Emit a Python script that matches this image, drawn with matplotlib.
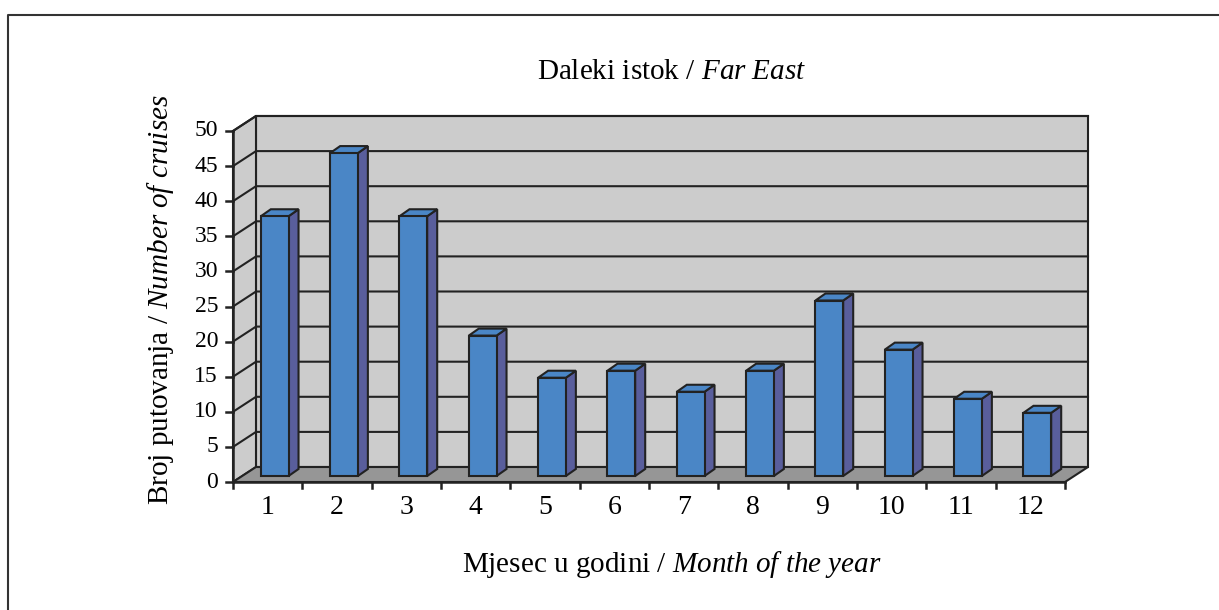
import matplotlib
matplotlib.use("Agg")
import matplotlib.pyplot as plt
from matplotlib.patches import Polygon
from matplotlib.lines import Line2D
from matplotlib.transforms import IdentityTransform
import numpy as np

months = ["1", "2", "3", "4", "5", "6", "7", "8", "9", "10", "11", "12"]
cruises = [37, 46, 37, 20, 14, 15, 12, 15, 25, 18, 11, 9]
y_ticks = [0, 5, 10, 15, 20, 25, 30, 35, 40, 45, 50]
title_text = "Daleki istok / $\\mathit{Far\\ East}$"
xlabel_text = "Mjesec u godini / $\\mathit{Month\\ of\\ the\\ year}$"
ylabel_text = "Broj putovanja / $\\mathit{Number\\ of\\ cruises}$"

plt.rcParams['font.family'] = ['Liberation Serif', 'DejaVu Serif']
plt.rcParams['mathtext.fontset'] = 'custom'
plt.rcParams['mathtext.rm'] = 'Liberation Serif'
plt.rcParams['mathtext.it'] = 'Liberation Serif:italic'

W, H, DPI = 1219, 610, 100
fig = plt.figure(figsize=(W / DPI, H / DPI), dpi=DPI)
fig.patch.set_facecolor("white")

# front plane of the plot box (pixels)
x0, x1, yb, yt = 233, 1065, 482, 131
ax = fig.add_axes([x0 / W, 1 - yb / H, (x1 - x0) / W, (yb - yt) / H])
ax.set_xlim(0.5, len(months) + 0.5)
ax.set_ylim(0, 50)
ax.axis("off")

DEPTH = np.array([23.0, 15.0])   # wall depth in pixels
BAR_F = np.array([7.0, 6.0])     # bar front face offset
BAR_B = np.array([17.0, 13.0])   # bar back face offset
HALF = 0.2
edge = "#222222"
lw = 1.5
T = IdentityTransform()


def P(x, y, off=(0, 0)):
    p = ax.transData.transform((x, y))
    return (p[0] + off[0], p[1] + off[1])


def poly(pts, fc, z, ec=edge):
    fig.patches.append(Polygon(pts, closed=True, facecolor=fc, edgecolor=ec,
                               linewidth=lw, transform=T, figure=fig, zorder=z))


def line(pts, z=3, c=edge, w=lw):
    xs, ys = zip(*pts)
    fig.lines.append(Line2D(xs, ys, color=c, linewidth=w, transform=T,
                            figure=fig, zorder=z))


xa, xb = 0.5, len(months) + 0.5
ymax = y_ticks[-1]
# back wall
poly([P(xa, 0, DEPTH), P(xb, 0, DEPTH), P(xb, ymax, DEPTH), P(xa, ymax, DEPTH)], "#cccccc", 1)
# left wall
poly([P(xa, 0), P(xa, 0, DEPTH), P(xa, ymax, DEPTH), P(xa, ymax)], "#cccccc", 1)
# floor
poly([P(xa, 0), P(xb, 0), P(xb, 0, DEPTH), P(xa, 0, DEPTH)], "#969696", 1)

# gridlines
for v in y_ticks[1:]:
    line([P(xa, v), P(xa, v, DEPTH), P(xb, v, DEPTH)], z=2)

# axis line and ticks
line([P(xa, 0), P(xa, ymax)], z=6, w=1.8)
line([P(xa, 0), P(xb, 0)], z=6, w=1.8)
for v in y_ticks:
    a = P(xa, v)
    line([(a[0] - 7, a[1]), a], z=6, w=1.8)
    fig.text((a[0] - 15) / W, a[1] / H, str(v), ha="right", va="center", fontsize=17)
for i in range(len(months) + 1):
    a = P(xa + i, 0)
    line([a, (a[0], a[1] - 6)], z=6, w=1.8)
for i, m in enumerate(months):
    a = P(i + 1, 0)
    fig.text(a[0] / W, (a[1] - 25) / H, m, ha="center", va="center", fontsize=20)

# bars
front_c, side_c, top_c = "#4a86c6", "#595e9c", "#4a86c6"
for i, v in enumerate(cruises):
    x = i + 1
    l, r = x - HALF, x + HALF
    z = 10
    poly([P(r, 0, BAR_F), P(r, 0, BAR_B), P(r, v, BAR_B), P(r, v, BAR_F)], side_c, z)
    poly([P(l, v, BAR_F), P(r, v, BAR_F), P(r, v, BAR_B), P(l, v, BAR_B)], top_c, z)
    poly([P(l, 0, BAR_F), P(r, 0, BAR_F), P(r, v, BAR_F), P(l, v, BAR_F)], front_c, z + 1)

# labels
fig.text(672 / W, 1 - 72 / H, title_text, ha="center", va="center", fontsize=21)
fig.text(672 / W, 1 - 565 / H, xlabel_text, ha="center", va="center", fontsize=21)
fig.text(160 / W, 1 - 300 / H, ylabel_text, ha="center", va="center", fontsize=21,
         rotation=90)

# outer border (open on right and bottom)
fig.lines.append(Line2D([8 / W, 8 / W, 1.0], [0.0, 1 - 15 / H, 1 - 15 / H],
                        color="#333333", linewidth=1.5, transform=fig.transFigure,
                        figure=fig))

fig.savefig("out.png", dpi=DPI)
